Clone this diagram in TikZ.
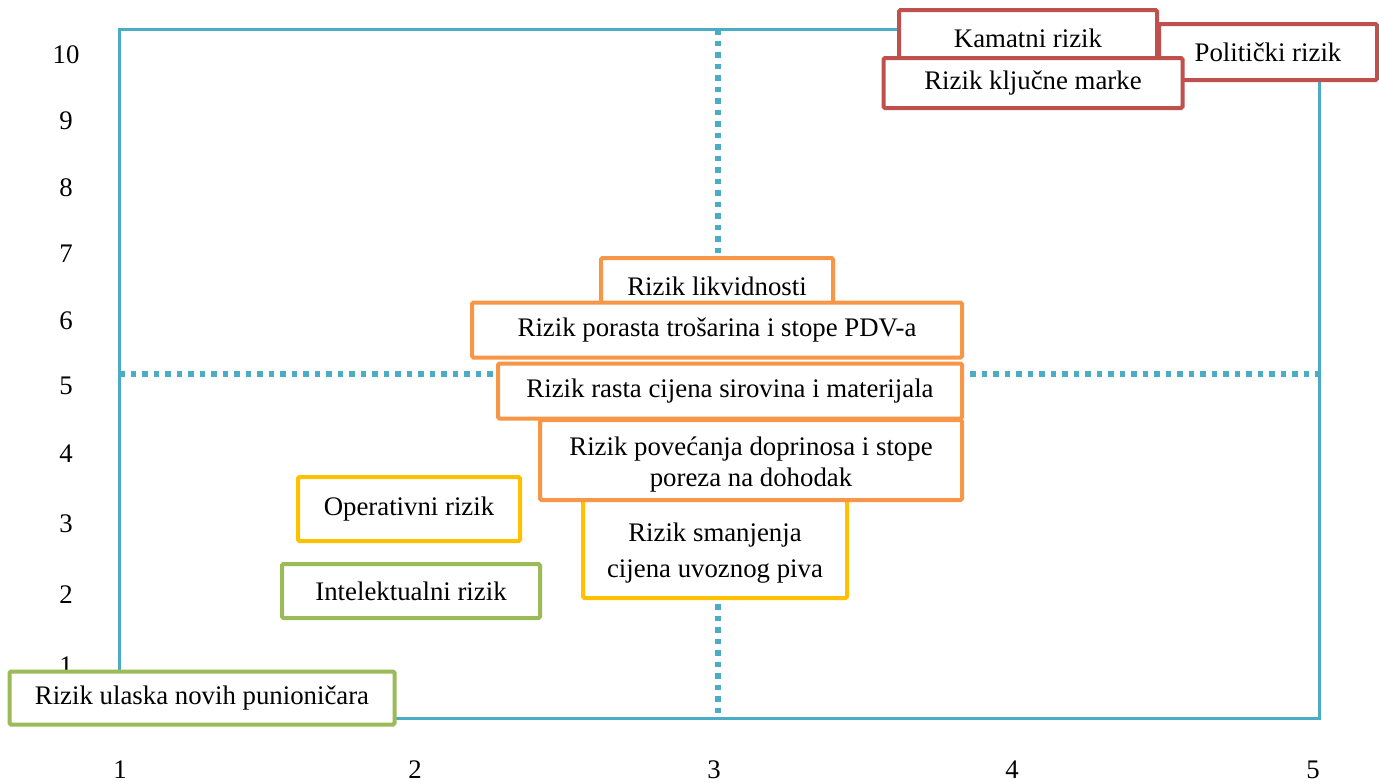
\documentclass[tikz,border=0pt]{standalone}
\usepackage{fontspec}
\setmainfont{Liberation Serif}
\newcommand\bodyfont{\fontsize{26.8}{31}\selectfont}
\definecolor{cblue}{HTML}{4BACC6}
\definecolor{cred}{HTML}{C0504D}
\definecolor{corange}{HTML}{F79646}
\definecolor{cyellow}{HTML}{FFC000}
\definecolor{cgreen}{HTML}{9BBB59}
\tikzset{
  riskbox/.style={draw, line width=4pt, fill=white, rounded corners=1.5pt, inner sep=0pt, align=center, font=\bodyfont},
  redbox/.style={riskbox, draw=cred},
  orangebox/.style={riskbox, draw=corange},
  yellowbox/.style={riskbox, draw=cyellow},
  greenbox/.style={riskbox, draw=cgreen},
  boxtext/.style={inner sep=0pt, align=center, font=\bodyfont},
  axlabel/.style={inner sep=0pt, font=\bodyfont},
  frameline/.style={draw=cblue, line width=3pt},
  dotline/.style={draw=cblue, line width=5.5pt, dash pattern=on 5.5pt off 6pt}
}
\begin{document}
\begin{tikzpicture}[x=1pt,y=-1pt]
\useasboundingbox (0,0) rectangle (1379,782);
% frame
\coordinate (tl) at (119,29);
\coordinate (br) at (1319,718);
\coordinate (vt) at (718,29);
\coordinate (vb) at (718,718);
\coordinate (hl) at (119,374);
\coordinate (hr) at (1319,374);
\draw[dotline] (vt) -- (vb);
\draw[dotline] (hl) -- (hr);
\draw[frameline] (tl) rectangle (br);
% axis labels
\node[axlabel] (y10) at (66,55) {10};
\node[axlabel] (y9) at (66,121) {9};
\node[axlabel] (y8) at (66,188) {8};
\node[axlabel] (y7) at (66,254) {7};
\node[axlabel] (y6) at (66,321) {6};
\node[axlabel] (y5) at (66,386) {5};
\node[axlabel] (y4) at (66,454) {4};
\node[axlabel] (y3) at (66,524) {3};
\node[axlabel] (y2) at (66,595) {2};
\node[axlabel] (y1) at (66,666) {1};
\node[axlabel] (x1) at (120,770) {1};
\node[axlabel] (x2) at (415,770) {2};
\node[axlabel] (x3) at (714,770) {3};
\node[axlabel] (x4) at (1012,770) {4};
\node[axlabel] (x5) at (1313,770) {5};
% boxes
\node[greenbox, minimum width=385, minimum height=53] (ulaska) at (202,698) {Rizik ulaska novih punioničara};
\node[greenbox, minimum width=258, minimum height=54] (intel) at (411,591) {Intelektualni rizik};
\node[yellowbox, minimum width=222, minimum height=64] (oper) at (409,509) {Operativni rizik};
\node[yellowbox, minimum width=264, minimum height=100] (smanj) at (715,548) {};
\node[boxtext, font=\fontsize{26.8}{36}\selectfont] (smanjtext) at ([yshift=-5pt]smanj.center) {Rizik smanjenja\\cijena uvoznog piva};
\node[orangebox, minimum width=232, minimum height=56] (likv) at (717,286) {Rizik likvidnosti};
\node[orangebox, minimum width=490, minimum height=55] (porasta) at (717,330) {Rizik porasta trošarina i stope PDV-a};
\node[orangebox, minimum width=464, minimum height=55] (rasta) at (730,391) {Rizik rasta cijena sirovina i materijala};
\node[orangebox, minimum width=422, minimum height=80] (povec) at (751,460) {};
\node[boxtext] (povectext) at ([yshift=-5pt]povec.center) {Rizik povećanja doprinosa i stope\\poreza na dohodak};
\node[redbox, minimum width=218, minimum height=56] (polit) at (1268,52) {Politički rizik};
\node[redbox, minimum width=258, minimum height=56] (kamat) at (1028,38) {Kamatni rizik};
\node[redbox, minimum width=299, minimum height=50] (kljuc) at (1033,83) {Rizik ključne marke};
\end{tikzpicture}
\end{document}
